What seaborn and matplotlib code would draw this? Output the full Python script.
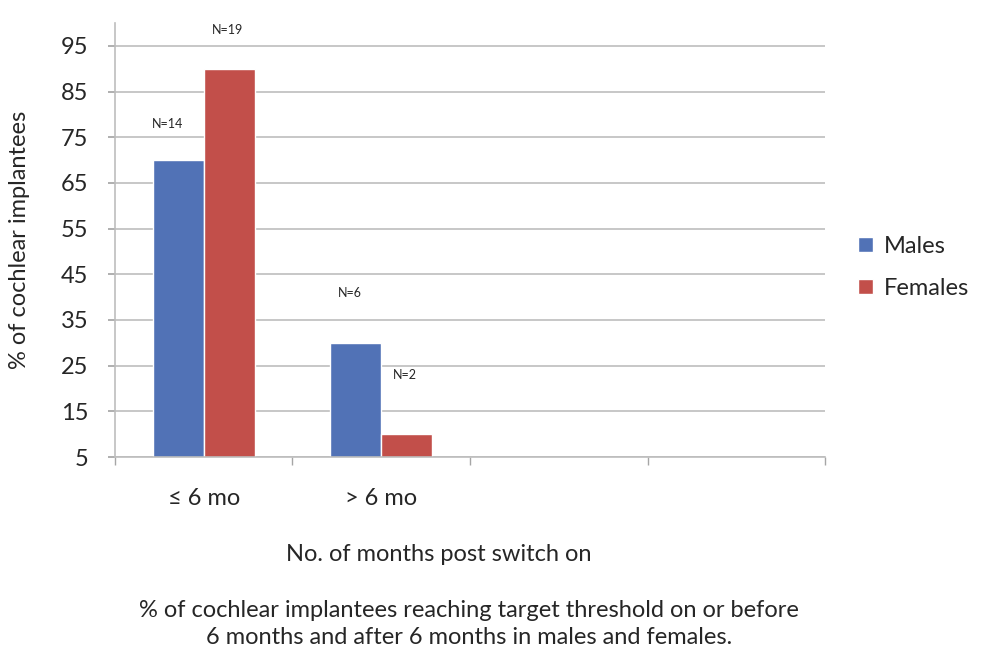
import matplotlib
matplotlib.use("Agg")
import matplotlib.pyplot as plt
import seaborn as sns
import pandas as pd

# Data
categories = ["\u2264 6 mo", "> 6 mo"]
males = [70, 30]
females = [90, 10]
n_males = ["N=14", "N=6"]
n_females = ["N=19", "N=2"]
y_ticks = [5, 15, 25, 35, 45, 55, 65, 75, 85, 95]

df = pd.DataFrame({
    "period": categories * 2,
    "sex": ["Males"] * len(categories) + ["Females"] * len(categories),
    "pct": males + females,
})

sns.set_theme(style="white")
plt.rcParams["font.family"] = ["Lato", "DejaVu Sans"]

fig = plt.figure(figsize=(9.81, 6.59), dpi=100)
ax = fig.add_axes([0.1172, 0.3065, 0.7238, 0.6585])

palette = {"Males": "#5172B6", "Females": "#C24F4A"}
sns.barplot(data=df, x="period", y="pct", hue="sex", order=categories,
            hue_order=["Males", "Females"], palette=palette, width=0.575,
            saturation=1, ax=ax, legend=True)

# four category slots on the axis, last two empty
ax.set_xlim(-0.5, 3.5)
ax.set_ylim(5, 100)
ax.set_yticks(y_ticks)
ax.tick_params(axis="y", labelsize=17, length=5, color="#A6A6A6", left=True,
               pad=14, labelcolor="#262626")
ax.set_xticks([0, 1])
ax.set_xticklabels(categories, fontsize=17, color="#262626")
ax.set_xticks([-0.5, 0.5, 1.5, 2.5, 3.5], minor=True)
ax.tick_params(axis="x", which="major", length=0, pad=22)
ax.tick_params(axis="x", which="minor", length=6, color="#A6A6A6", bottom=True)

ax.yaxis.grid(True, color="#BDBDBD", linewidth=1.2)
ax.set_axisbelow(True)
for side in ["top", "right"]:
    ax.spines[side].set_visible(False)
for side in ["left", "bottom"]:
    ax.spines[side].set_color("#BDBDBD")
    ax.spines[side].set_linewidth(1.2)

ax.set_xlabel("")
ax.set_ylabel("% of cochlear implantees", fontsize=17, color="#262626", labelpad=22)

# N labels above the bars
male_offsets = [(-0.06, 8), (-0.03, 11)]
female_offsets = [(-0.01, 8.5), (-0.01, 13)]
for i in range(len(categories)):
    dx, dy = male_offsets[i]
    ax.text(i - 0.144 + dx, males[i] + dy, n_males[i], ha="center", va="center",
            fontsize=9, color="#262626")
    dx, dy = female_offsets[i]
    ax.text(i + 0.144 + dx, females[i] + dy, n_females[i], ha="center", va="center",
            fontsize=9, color="#262626")

leg = ax.legend(loc="center left", bbox_to_anchor=(1.017, 0.437), frameon=False,
                fontsize=17, handlelength=0.6, handleheight=0.6, handletextpad=0.5,
                labelspacing=0.9)
for t in leg.get_texts():
    t.set_color("#262626")

fig.text(0.447, 0.158, "No. of months post switch on", ha="center", va="center",
         fontsize=17, color="#262626")
fig.text(0.478, 0.053,
         "% of cochlear implantees reaching target threshold on or before\n"
         "6 months and after 6 months in males and females.",
         ha="center", va="center", fontsize=17, color="#262626", linespacing=1.4)

fig.savefig("out.png", dpi=100, facecolor="white")
